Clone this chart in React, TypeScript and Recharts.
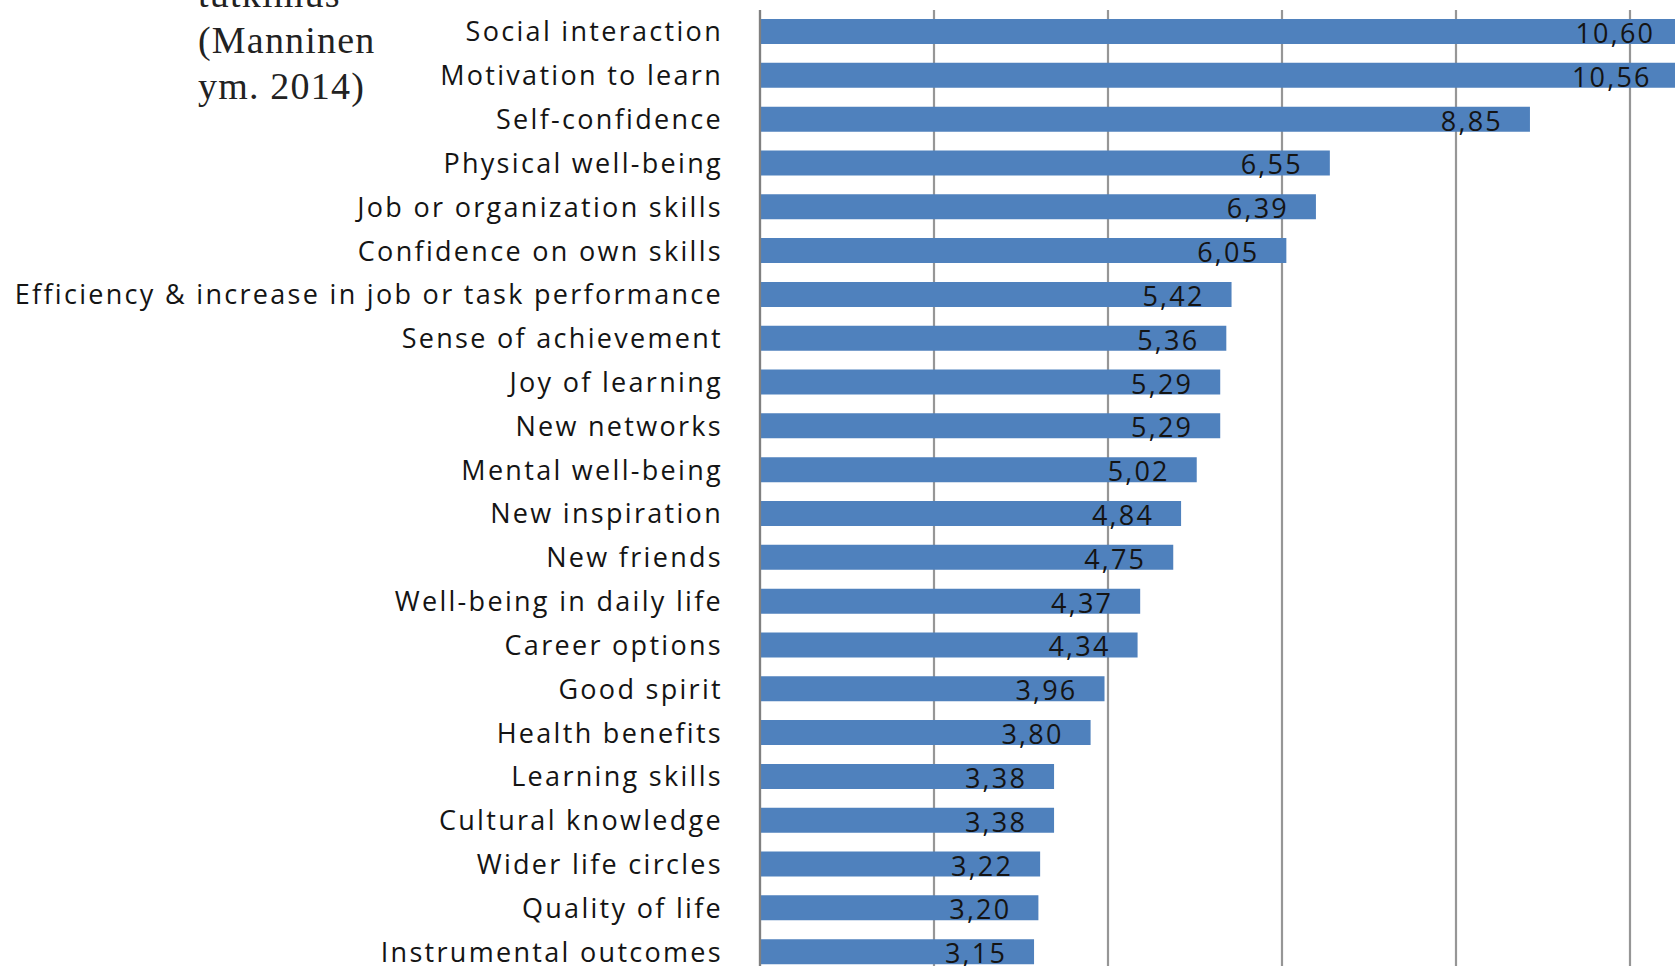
import { BarChart, Bar, XAxis, YAxis, CartesianGrid, LabelList } from 'recharts';

const categories = [
  'Social interaction',
  'Motivation  to learn',
  'Self-confidence',
  'Physical well-being',
  'Job or organization  skills',
  'Confidence on own skills',
  'Efficiency & increase in job or task performance',
  'Sense of achievement',
  'Joy of learning',
  'New networks',
  'Mental well-being',
  'New inspiration',
  'New friends',
  'Well-being in daily life',
  'Career options',
  'Good spirit',
  'Health benefits',
  'Learning skills',
  'Cultural knowledge',
  'Wider life circles',
  'Quality of life',
  'Instrumental  outcomes',
];

const values = [
  10.6, 10.56, 8.85, 6.55, 6.39, 6.05, 5.42, 5.36, 5.29, 5.29, 5.02, 4.84, 4.75, 4.37, 4.34, 3.96,
  3.8, 3.38, 3.38, 3.22, 3.2, 3.15,
];

const xTicks = [0, 2, 4, 6, 8, 10, 12];

const sideNote = ['tutkimus', '(Manninen', 'ym. 2014)'];

const data = categories.map((name, i) => ({ name, value: values[i] }));

const labelFont = '"Open Sans", sans-serif';

function ValueLabel(props: any) {
  const { x, y, width, height, value } = props;
  return (
    <text
      x={x + width - 27}
      y={y + height / 2 + 1}
      textAnchor="end"
      dominantBaseline="central"
      fontFamily={labelFont}
      fontSize={27}
      letterSpacing={2.2}
      fill="#141414"
    >
      {Number(value).toFixed(2).replace('.', ',')}
    </text>
  );
}

export default function App() {
  return (
    <div
      style={{
        position: 'absolute',
        left: 0,
        top: 0,
        width: 1675,
        height: 966,
        overflow: 'hidden',
        background: '#fff',
      }}
    >
      <BarChart
        width={1820}
        height={990}
        data={data}
        layout="vertical"
        margin={{ top: 10, right: 16, bottom: 16, left: 0 }}
      >
        <CartesianGrid horizontal={false} stroke="#969696" strokeWidth={2.2} />
        <XAxis type="number" domain={[0, 12]} ticks={xTicks} hide />
        <YAxis
          type="category"
          dataKey="name"
          width={760}
          tickSize={0}
          tickMargin={37}
          axisLine={{ stroke: '#808080', strokeWidth: 2.2 }}
          tickLine={false}
          interval={0}
          tick={{ fontFamily: labelFont, fontSize: 27, letterSpacing: 2.3, fill: '#141414' }}
        />
        <Bar dataKey="value" fill="#4f81bd" barSize={25} isAnimationActive={false}>
          <LabelList dataKey="value" content={ValueLabel} />
        </Bar>
      </BarChart>
      {sideNote.map((line, i) => (
        <div
          key={line}
          style={{
            position: 'absolute',
            left: 198,
            top: -29 + i * 46,
            fontFamily: '"Liberation Serif", serif',
            fontSize: 38,
            letterSpacing: 1.2,
            lineHeight: '46px',
            color: '#222',
          }}
        >
          {line}
        </div>
      ))}
    </div>
  );
}
